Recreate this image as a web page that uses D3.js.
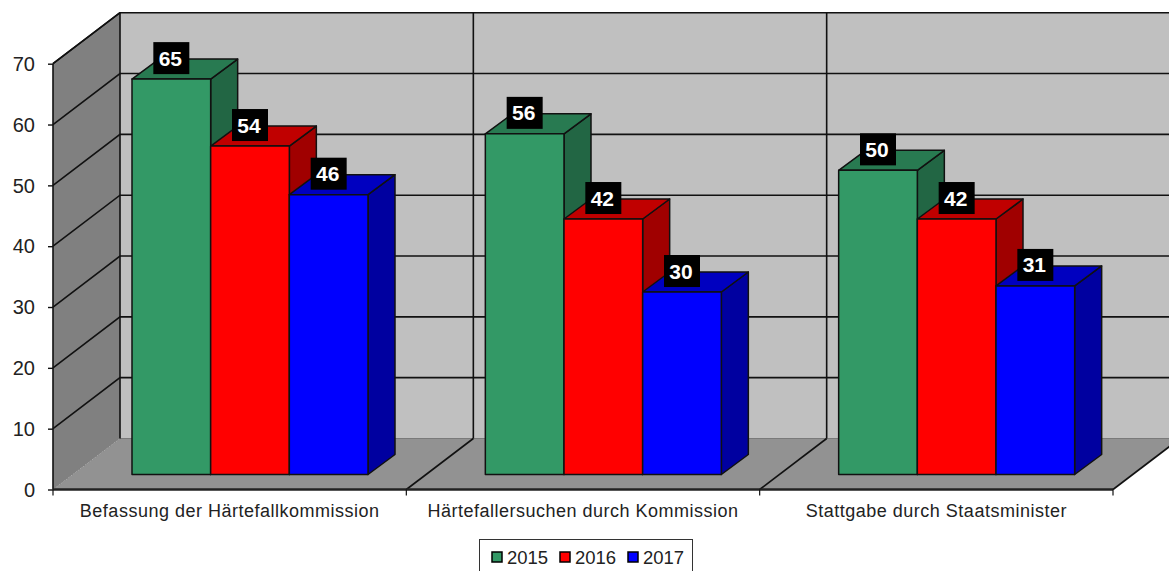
<!DOCTYPE html>
<html>
<head>
<meta charset="utf-8">
<script src="https://d3js.org/d3.v7.min.js"></script>
<style>
  html, body { margin: 0; padding: 0; background: #fff; overflow: hidden; }
  text { font-family: "Liberation Sans", Arial, sans-serif; }
</style>
</head>
<body>
<svg id="chart"></svg>
<script>
const categories = ["Befassung der Härtefallkommission", "Härtefallersuchen durch Kommission", "Stattgabe durch Staatsminister"]
const years = ["2015", "2016", "2017"]
const values2015 = [65, 56, 50]
const values2016 = [54, 42, 42]
const values2017 = [46, 30, 31]
const yTicks = [0, 10, 20, 30, 40, 50, 60, 70]
const frontColors = ["#339966", "#ff0000", "#0000ff"]
const topColors = ["#287a51", "#c00000", "#0000c0"]
const sideColors = ["#226644", "#a00000", "#0000a0"]

const width = 1169, height = 571
const seriesValues = [values2015, values2016, values2017]

// offset of the back wall and of the bars against the front plane
const wallDx = 67, wallDy = -51
const barDx = 27, barDy = -20
const floorLift = 15

const svg = d3.select("#chart").attr("width", width).attr("height", height)
    .style("display", "block")

const x = d3.scaleBand().domain(categories).range([53, 1113])
const xInner = d3.scaleBand().domain(years).range([79, 315])
const y = d3.scaleLinear().domain([0, 70]).range([489.5, 63.7])

const line = "#111"
const pts = a => a.map(p => p.join(",")).join(" ")
const x0 = 53, x1 = 1113, y0 = y(0), yTop = y(70)

//Walls and floor
svg.append("polygon").attr("fill", "#c0c0c0")
    .attr("points", pts([[x0 + wallDx, yTop + wallDy], [x1 + wallDx, yTop + wallDy], [x1 + wallDx, y0 + wallDy], [x0 + wallDx, y0 + wallDy]]))
svg.append("polygon").attr("fill", "#808080")
    .attr("points", pts([[x0, y0], [x0, yTop], [x0 + wallDx, yTop + wallDy], [x0 + wallDx, y0 + wallDy]]))
svg.append("polygon").attr("fill", "#929292")
    .attr("points", pts([[x0, y0], [x1, y0], [x1 + wallDx, y0 + wallDy], [x0 + wallDx, y0 + wallDy]]))
svg.append("line").attr("stroke", "#7a7a7a").attr("stroke-width", 1)
    .attr("x1", x0 + wallDx).attr("x2", x1 + wallDx).attr("y1", y0 + wallDy).attr("y2", y0 + wallDy)
svg.append("line").attr("stroke", "#777").attr("stroke-dasharray", "1,2")
    .attr("x1", x0).attr("x2", x0 + wallDx).attr("y1", y0).attr("y2", y0 + wallDy)

//Grid lines on the side wall and the back wall
const grid = svg.append("g").attr("fill", "none").attr("stroke", line).attr("stroke-width", 1.6)
yTicks.filter(d => d > 0).forEach(d => {
    grid.append("polyline")
        .attr("points", pts([[x0, y(d)], [x0 + wallDx, y(d) + wallDy], [x1 + wallDx, y(d) + wallDy]]))
})
const dividers = categories.map(c => x(c)).concat([x1])
dividers.forEach((d, i) => {
    if (i < 3) grid.append("line").attr("x1", d + wallDx).attr("x2", d + wallDx)
        .attr("y1", yTop + wallDy).attr("y2", y0 + wallDy)
    if (i > 0) grid.append("line").attr("x1", d).attr("x2", d + wallDx)
        .attr("y1", y0).attr("y2", y0 + wallDy)
})
grid.append("line").attr("x1", x0).attr("x2", x0).attr("y1", y(70)).attr("y2", y0)
grid.append("line").attr("x1", x0).attr("x2", x0 + wallDx).attr("y1", yTop).attr("y2", yTop + wallDy)

//Axes
const axisY = svg.append("g").attr("transform", `translate(${x0},0)`)
    .call(d3.axisLeft(y).tickValues(yTicks).tickSize(5).tickPadding(13).tickFormat(d3.format("d")))
axisY.select(".domain").remove()
axisY.selectAll("line").attr("stroke", line).attr("stroke-width", 1.4)
axisY.selectAll("text").attr("font-size", 20).attr("fill", "#222").attr("font-family", "Liberation Sans")
    .attr("dy", "0.34em")

const axisX = svg.append("g").attr("transform", `translate(0,${y0})`)
    .call(d3.axisBottom(x).tickSize(0).tickPadding(15))
axisX.select(".domain").remove()
axisX.selectAll("text").attr("font-size", 18).attr("fill", "#222").attr("font-family", "Liberation Sans")
    .attr("letter-spacing", 0.5)
svg.append("line").attr("x1", x0).attr("x2", x1).attr("y1", y0).attr("y2", y0)
    .attr("stroke", "#222").attr("stroke-width", 2.4)
svg.append("g").selectAll("line").data(dividers).join("line")
    .attr("x1", d => d).attr("x2", d => d).attr("y1", y0).attr("y2", y0 + 6)
    .attr("stroke", line).attr("stroke-width", 1.2)

//Bars
const bars = []
categories.forEach((c, ci) => {
    years.forEach((yr, si) => {
        bars.push({ c, yr, si, value: seriesValues[si][ci] })
    })
})
const bar = svg.append("g").selectAll("g").data(bars).join("g")
    .attr("stroke", line).attr("stroke-width", 1.5).attr("stroke-linejoin", "round")
const barLeft = d => x(d.c) + xInner(d.yr)
const barRight = d => barLeft(d) + xInner.bandwidth()
const barBase = y0 - floorLift
const barTop = d => y(d.value) - floorLift

bar.append("polygon").attr("fill", d => sideColors[d.si])
    .attr("points", d => pts([[barRight(d), barTop(d)], [barRight(d) + barDx, barTop(d) + barDy], [barRight(d) + barDx, barBase + barDy], [barRight(d), barBase]]))
bar.append("polygon").attr("fill", d => topColors[d.si])
    .attr("points", d => pts([[barLeft(d), barTop(d)], [barLeft(d) + barDx, barTop(d) + barDy], [barRight(d) + barDx, barTop(d) + barDy], [barRight(d), barTop(d)]]))
bar.append("rect").attr("fill", d => frontColors[d.si])
    .attr("x", barLeft).attr("y", barTop).attr("width", xInner.bandwidth()).attr("height", d => barBase - barTop(d))

//Value labels
const labels = svg.append("g").selectAll("g").data(bars).join("g")
    .attr("transform", d => `translate(${barLeft(d) + xInner.bandwidth() / 2},${barTop(d) - 21})`)
labels.append("rect").attr("x", -18).attr("y", -16).attr("width", 36).attr("height", 32).attr("fill", "#000")
labels.append("text").attr("text-anchor", "middle").attr("dx", -1).attr("dy", "0.36em")
    .attr("font-size", 21).attr("font-weight", "bold").attr("fill", "#fff")
    .text(d => d.value)

//Legend
const legend = svg.append("g")
legend.append("rect").attr("x", 479.5).attr("y", 539.5).attr("width", 213).attr("height", 40)
    .attr("fill", "#fff").attr("stroke", "#333").attr("stroke-width", 1)
const legendX = d3.scalePoint().domain(years).range([492, 628])
const entry = legend.selectAll("g").data(years).join("g")
    .attr("transform", d => `translate(${legendX(d)},557)`)
entry.append("rect").attr("x", 0).attr("y", -5).attr("width", 10).attr("height", 10)
    .attr("fill", (d, i) => frontColors[i]).attr("stroke", "#000").attr("stroke-width", 1.5)
entry.append("text").attr("x", 15).attr("dy", "0.36em").attr("font-size", 18.5).attr("fill", "#222").text(d => d)
</script>
</body>
</html>
